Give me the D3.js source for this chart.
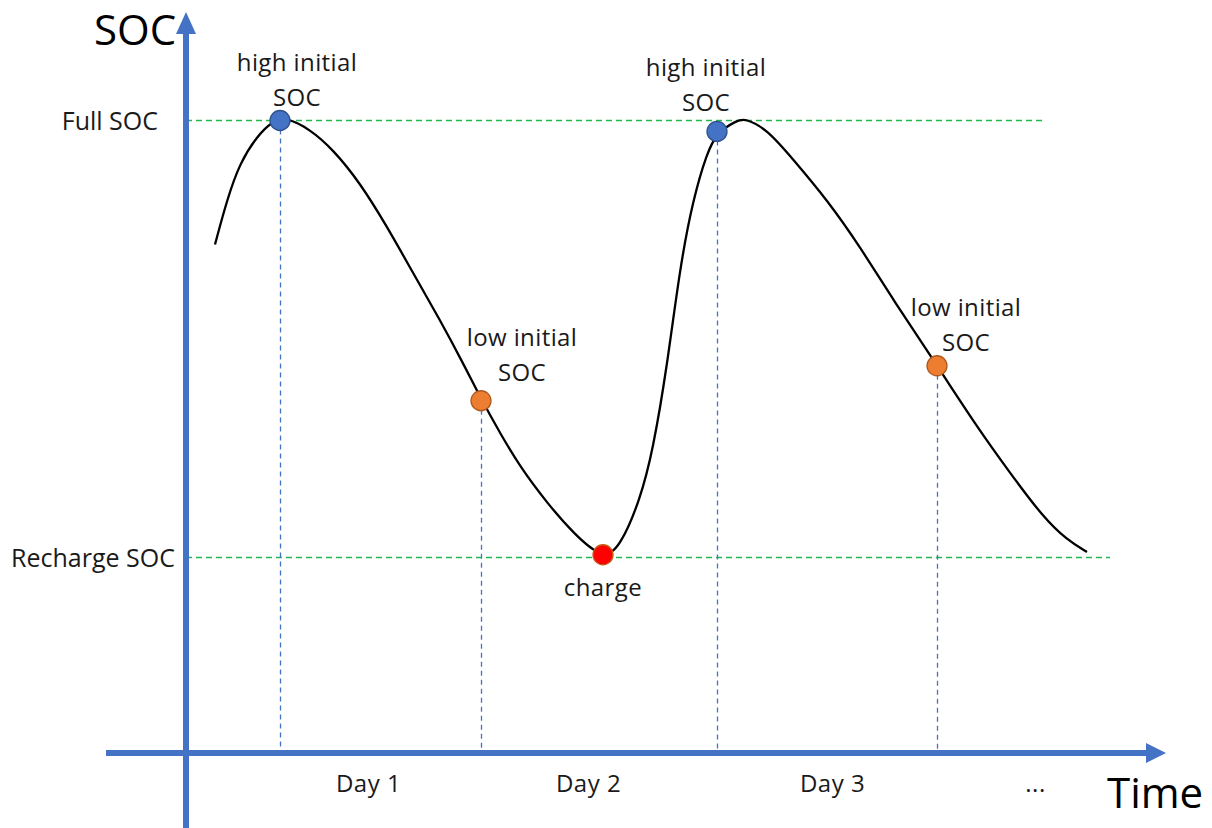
<!DOCTYPE html>
<html>
<head>
<meta charset="utf-8">
<script src="https://cdn.jsdelivr.net/npm/d3@7"></script>
<style>
  body { margin: 0; background: #fff; }
  svg { display: block; font-family: "Open Sans", sans-serif; }
</style>
</head>
<body>
<script>
// SOC curve: time (hours-ish units) and SOC (%)
const curveTime = [2.9, 4.1, 5.4, 7.1, 8.6, 10.0, 12.4, 14.7, 17.4, 20.1, 22.7, 25.4, 27.7, 29.6,
                   31.4, 33.4, 36.1, 38.7, 41.7, 43.4, 45.4, 46.7, 48.1, 49.4, 50.7, 52.1, 53.1,
                   55.1, 55.9, 58.1, 60.7, 64.1, 67.4, 70.7, 75.2, 79.1, 82.4, 85.7, 88.1, 90.1];
const curveSoc  = [77.3, 85.5, 92.3, 97.1, 99.8, 100.6, 98.4, 94.7, 88.6, 80.6, 72.1, 63.5, 55.6, 48.7,
                   42.8, 36.6, 30.0, 24.5, 19.6, 21.9, 30.5, 39.7, 54.9, 73.2, 85.5, 94.1, 97.8,
                   100.0, 100.4, 98.4, 92.9, 85.5, 76.9, 67.2, 54.9, 43.9, 35.5, 27.4, 23.2, 21.0];

// marked points
const pointTime  = [9.4, 29.5, 41.7, 53.1, 75.1];
const pointSoc   = [100, 48.7, 20.5, 98.0, 55.1];
const pointKind  = ['high', 'low', 'charge', 'high', 'low'];
const pointLabel = [['high initial', 'SOC'], ['low initial', 'SOC'], ['charge'], ['high initial', 'SOC'], ['low initial', 'SOC']];

// reference levels
const levelSoc   = [100, 20];
const levelLabel = ['Full SOC', 'Recharge SOC'];
const levelEnd   = [85.6, 92.4];

// day labels along time axis
const dayTicks  = [18.2, 40.2, 64.6, 84.9];
const dayLabels = ['Day 1', 'Day 2', 'Day 3', '...'];

const width = 1212, height = 828,
      axisX = 186, axisY = 753;

const blue = '#4472C4';

const x = d3.scaleLinear().domain([0, 98]).range([axisX, axisX + 980]),
      y = d3.scaleLinear().domain([20, 100]).range([557.5, 120.5]);

const svg = d3.select('body').append('svg')
              .attr('width', width)
              .attr('height', height);

// reference level lines
svg.append('g').selectAll('line')
   .data(levelSoc)
   .enter()
   .append('line')
   .attr('x1', axisX)
   .attr('x2', (d, i) => x(levelEnd[i]))
   .attr('y1', d => y(d))
   .attr('y2', d => y(d))
   .attr('stroke', '#22B850')
   .attr('stroke-width', 1.5)
   .attr('stroke-dasharray', '6,4');

svg.append('g').selectAll('text')
   .data(levelLabel)
   .enter()
   .append('text')
   .attr('x', (d, i) => i === 0 ? 158 : 175)
   .attr('y', (d, i) => y(levelSoc[i]) + 9)
   .attr('text-anchor', 'end')
   .attr('font-size', 25)
   .attr('fill', '#1a1a1a')
   .text(d => d);

// vertical drop lines
const points = pointTime.map((t, i) => ({ t: t, soc: pointSoc[i], kind: pointKind[i], label: pointLabel[i] }));

svg.append('g').selectAll('line')
   .data(points.filter(d => d.kind !== 'charge'))
   .enter()
   .append('line')
   .attr('x1', d => Math.round(x(d.t)) + 0.5)
   .attr('x2', d => Math.round(x(d.t)) + 0.5)
   .attr('y1', d => y(d.soc))
   .attr('y2', axisY)
   .attr('stroke', blue)
   .attr('stroke-width', 1.3)
   .attr('stroke-dasharray', '5,4');

// axes
svg.append('line')
   .attr('x1', axisX).attr('x2', axisX)
   .attr('y1', height).attr('y2', 30)
   .attr('stroke', blue).attr('stroke-width', 6);
svg.append('path')
   .attr('d', `M${axisX},12 L${axisX - 10},34 L${axisX + 10},34 Z`)
   .attr('fill', blue);

svg.append('line')
   .attr('x1', 106).attr('x2', 1150)
   .attr('y1', axisY).attr('y2', axisY)
   .attr('stroke', blue).attr('stroke-width', 6);
svg.append('path')
   .attr('d', `M1166,${axisY} L1146,${axisY - 10} L1146,${axisY + 10} Z`)
   .attr('fill', blue);

// day labels
const xAxis = d3.axisBottom(x)
                .tickValues(dayTicks)
                .tickSize(0)
                .tickPadding(0)
                .tickFormat((d, i) => dayLabels[i]);

const gx = svg.append('g')
              .attr('transform', 'translate(0,' + (axisY + 22) + ')')
              .call(xAxis);
gx.select('.domain').remove();
gx.selectAll('text')
  .attr('font-family', '"Open Sans", sans-serif')
  .attr('font-size', 24)
  .attr('letter-spacing', 0.5)
  .attr('fill', '#1a1a1a');

// axis titles
svg.append('text')
   .attr('x', 94).attr('y', 45)
   .attr('font-size', 42)
   .attr('fill', '#000')
   .text('SOC');

svg.append('text')
   .attr('x', 1107).attr('y', 808)
   .attr('font-size', 42)
   .attr('fill', '#000')
   .text('Time');

// SOC curve
const line = d3.line()
               .x(d => x(d[0]))
               .y(d => y(d[1]))
               .curve(d3.curveBasis);

svg.append('path')
   .datum(curveTime.map((t, i) => [t, curveSoc[i]]))
   .attr('d', line)
   .attr('fill', 'none')
   .attr('stroke', '#000')
   .attr('stroke-width', 2.3);

// markers
const fills   = { high: '#4472C4', low: '#ED7D31', charge: '#FF0000' },
      strokes = { high: '#2F528F', low: '#AE5A21', charge: '#C55A11' };

svg.append('g').selectAll('circle')
   .data(points)
   .enter()
   .append('circle')
   .attr('cx', d => x(d.t))
   .attr('cy', d => y(d.soc))
   .attr('r', 10)
   .attr('fill', d => fills[d.kind])
   .attr('stroke', d => strokes[d.kind])
   .attr('stroke-width', 1.3);

// point annotations (offsets from the marker)
const labelDx = [17, 41, 0, -11, 29],
      labelDy = [-15, -20, 41, -20, -15];

const notes = svg.append('g').selectAll('text')
   .data(points)
   .enter()
   .append('text')
   .attr('text-anchor', 'middle')
   .attr('font-size', 24)
   .attr('letter-spacing', 0.4)
   .attr('fill', '#1a1a1a')
   .attr('transform', (d, i) => 'translate(' + (x(d.t) + labelDx[i]) + ',' + (y(d.soc) + labelDy[i]) + ')');

notes.selectAll('tspan')
     .data(d => d.label.slice().reverse())
     .enter()
     .append('tspan')
     .attr('x', 0)
     .attr('y', (d, i) => -i * 35)
     .text(d => d);
</script>
</body>
</html>
